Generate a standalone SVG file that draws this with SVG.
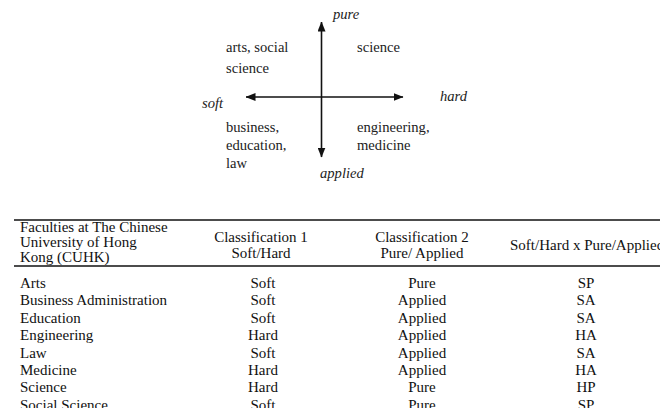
<svg xmlns="http://www.w3.org/2000/svg" width="660" height="408" viewBox="0 0 660 408">
<style>
.q{font-family:"Liberation Serif","Times New Roman",serif;font-size:14.6px;fill:#222}
.qi{font-family:"Liberation Serif","Times New Roman",serif;font-size:14.6px;font-style:italic;fill:#222}
.t{font-family:"Liberation Serif","Times New Roman",serif;font-size:15px;fill:#111}
.c{text-anchor:middle}
.ax{stroke:#111;stroke-width:1.6;fill:none}
.rule{stroke:#111;stroke-width:1.3}
</style>
<defs>
<marker id="ah" viewBox="0 0 10 8" refX="9.5" refY="4" markerWidth="10" markerHeight="8" markerUnits="userSpaceOnUse" orient="auto">
<path d="M0,0 L10,4 L0,8 z" fill="#111"/>
</marker>
</defs>
<g id="connectors">
<line class="ax" x1="321.5" y1="97" x2="321.5" y2="22" marker-end="url(#ah)"/>
<line class="ax" x1="321.5" y1="97" x2="321.5" y2="157" marker-end="url(#ah)"/>
<line class="ax" x1="321.5" y1="97" x2="246" y2="97" marker-end="url(#ah)"/>
<line class="ax" x1="321.5" y1="97" x2="403" y2="97" marker-end="url(#ah)"/>
</g>
<g id="label-pure"><text class="qi" x="333" y="19">pure</text></g>
<g id="label-applied"><text class="qi" x="320" y="178">applied</text></g>
<g id="label-soft"><text class="qi" x="202" y="108">soft</text></g>
<g id="label-hard"><text class="qi" x="440" y="101">hard</text></g>
<g id="quad-soft-pure"><text class="q" x="226" y="52">arts, social</text><text class="q" x="226" y="73">science</text></g>
<g id="quad-hard-pure"><text class="q" x="357" y="52">science</text></g>
<g id="quad-soft-applied"><text class="q" x="226" y="132">business,</text><text class="q" x="226" y="150">education,</text><text class="q" x="226" y="168">law</text></g>
<g id="quad-hard-applied"><text class="q" x="357" y="132">engineering,</text><text class="q" x="357" y="150">medicine</text></g>
<g id="table">
<line class="rule" x1="14" y1="220" x2="660" y2="220"/>
<line class="rule" x1="14" y1="266" x2="660" y2="266"/>
<text class="t" x="20" y="232">Faculties at The Chinese</text>
<text class="t" x="20" y="247">University of Hong</text>
<text class="t" x="20" y="262">Kong (CUHK)</text>
<text class="t c" x="261" y="242">Classification 1</text>
<text class="t c" x="261" y="257.5">Soft/Hard</text>
<text class="t c" x="422" y="242">Classification 2</text>
<text class="t c" x="422" y="257.5">Pure/ Applied</text>
<text class="t" x="510" y="250">Soft/Hard x Pure/Applied</text>
<g>
<text class="t" x="20" y="288">Arts</text><text class="t c" x="263" y="288">Soft</text><text class="t c" x="422" y="288">Pure</text><text class="t c" x="586" y="288">SP</text>
<text class="t" x="20" y="305.4">Business Administration</text><text class="t c" x="263" y="305.4">Soft</text><text class="t c" x="422" y="305.4">Applied</text><text class="t c" x="586" y="305.4">SA</text>
<text class="t" x="20" y="322.8">Education</text><text class="t c" x="263" y="322.8">Soft</text><text class="t c" x="422" y="322.8">Applied</text><text class="t c" x="586" y="322.8">SA</text>
<text class="t" x="20" y="340.2">Engineering</text><text class="t c" x="263" y="340.2">Hard</text><text class="t c" x="422" y="340.2">Applied</text><text class="t c" x="586" y="340.2">HA</text>
<text class="t" x="20" y="357.6">Law</text><text class="t c" x="263" y="357.6">Soft</text><text class="t c" x="422" y="357.6">Applied</text><text class="t c" x="586" y="357.6">SA</text>
<text class="t" x="20" y="375">Medicine</text><text class="t c" x="263" y="375">Hard</text><text class="t c" x="422" y="375">Applied</text><text class="t c" x="586" y="375">HA</text>
<text class="t" x="20" y="392.4">Science</text><text class="t c" x="263" y="392.4">Hard</text><text class="t c" x="422" y="392.4">Pure</text><text class="t c" x="586" y="392.4">HP</text>
<text class="t" x="20" y="409.8">Social Science</text><text class="t c" x="263" y="409.8">Soft</text><text class="t c" x="422" y="409.8">Pure</text><text class="t c" x="586" y="409.8">SP</text>
</g>
</g>
</svg>
